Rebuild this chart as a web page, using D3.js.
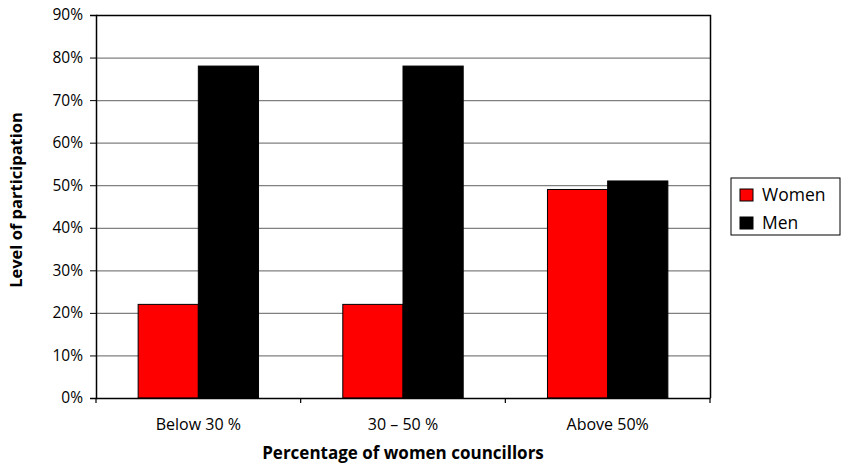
<!DOCTYPE html>
<html>
<head>
<meta charset="utf-8">
<script src="https://cdn.jsdelivr.net/npm/d3@7"></script>
<style>
  body { margin: 0; background: #fff; }
  svg text { font-family: "Open Sans", Lato, sans-serif; fill: #000; }
</style>
</head>
<body>
<div id="chart"></div>
<script>
//---------------------------------- Data --------------------
var categories = ["Below 30 %", "30 \u2013 50 %", "Above 50%"];
var seriesNames = ["Women", "Men"];
var women = [22, 22, 49];
var men = [78, 78, 51];
var yTicks = [0, 10, 20, 30, 40, 50, 60, 70, 80, 90];
var colors = ["#ff0000", "#000000"];

//---------------------------------- Layout --------------------
var width = 842, height = 466;
var plot = {left: 96, top: 15, right: 710, bottom: 398};

var svg = d3.select("#chart").append("svg")
    .attr("width", width)
    .attr("height", height);

var x_scale = d3.scaleBand()
    .domain(categories)
    .range([plot.left, plot.right]);

var x_inner = d3.scaleBand()
    .domain(seriesNames)
    .range([0, x_scale.bandwidth()])
    .paddingOuter(0.7)
    .paddingInner(0);

var y_scale = d3.scaleLinear()
    .domain([0, 90])
    .range([plot.bottom, plot.top]);

// gridlines
svg.append("g")
    .selectAll("line")
    .data(yTicks.filter(function(d){ return d > 0; }))
    .enter().append("line")
    .attr("x1", plot.left)
    .attr("x2", plot.right)
    .attr("y1", function(d){ return y_scale(d) + 0.5; })
    .attr("y2", function(d){ return y_scale(d) + 0.5; })
    .style("stroke", "#808080")
    .style("stroke-width", 1.2);

// bars
var rows = categories.map(function(c, i){ return {cat: c, vals: [women[i], men[i]]}; });

svg.append("g").selectAll("g")
    .data(rows)
    .enter().append("g")
    .attr("transform", function(d){ return "translate(" + x_scale(d.cat) + ",0)"; })
    .selectAll("rect")
    .data(function(d){ return d.vals.map(function(v, j){ return {name: seriesNames[j], value: v, j: j}; }); })
    .enter().append("rect")
    .attr("x", function(d){ return x_inner(d.name); })
    .attr("width", x_inner.bandwidth())
    .attr("y", function(d){ return y_scale(d.value); })
    .attr("height", function(d){ return y_scale(0) - y_scale(d.value); })
    .style("fill", function(d){ return colors[d.j]; })
    .style("stroke", "#000")
    .style("stroke-width", 1);

// right + top border
svg.append("path")
    .attr("d", "M" + plot.left + "," + (plot.top + 0.5) + "H" + (plot.right + 0.5) + "V" + plot.bottom)
    .style("fill", "none")
    .style("stroke", "#000")
    .style("stroke-width", 1.5);

// y axis
var yAxis = svg.append("g")
    .attr("transform", "translate(" + plot.left + ",0)")
    .call(d3.axisLeft(y_scale).tickValues(yTicks).tickSize(6).tickPadding(7)
        .tickFormat(function(d){ return d + "%"; }));
yAxis.select(".domain").style("stroke-width", 1.5);
yAxis.selectAll("text").style("font-size", "15.5px");

// x axis
var xAxis = svg.append("g")
    .attr("transform", "translate(0," + plot.bottom + ")")
    .call(d3.axisBottom(x_scale).tickSize(0).tickPadding(21));
xAxis.select(".domain").style("stroke-width", 1.5);
xAxis.selectAll("text").style("font-size", "16px");

// category separators on x axis
svg.append("g").selectAll("line")
    .data(categories.concat(["end"]))
    .enter().append("line")
    .attr("x1", function(d, i){ return plot.left + i * x_scale.step(); })
    .attr("x2", function(d, i){ return plot.left + i * x_scale.step(); })
    .attr("y1", plot.bottom)
    .attr("y2", plot.bottom + 5)
    .style("stroke", "#000")
    .style("stroke-width", 1.2);

// axis titles
svg.append("text")
    .attr("x", (plot.left + plot.right) / 2)
    .attr("y", 459)
    .attr("text-anchor", "middle")
    .style("font-size", "17px")
    .style("font-weight", "bold")
    .text("Percentage of women councillors");

svg.append("text")
    .attr("transform", "translate(22,200) rotate(-90)")
    .attr("text-anchor", "middle")
    .style("font-size", "16.5px")
    .style("font-weight", "bold")
    .text("Level of participation");

// legend
var legend = svg.append("g").attr("transform", "translate(731,178)");
legend.append("rect")
    .attr("width", 109)
    .attr("height", 57)
    .style("fill", "#fff")
    .style("stroke", "#000")
    .style("stroke-width", 1);

var items = legend.selectAll("g.item")
    .data(seriesNames)
    .enter().append("g")
    .attr("class", "item")
    .attr("transform", function(d, i){ return "translate(9," + (11 + i * 28) + ")"; });
items.append("rect")
    .attr("width", 13)
    .attr("height", 12)
    .style("fill", function(d, i){ return colors[i]; })
    .style("stroke", "#000");
items.append("text")
    .attr("x", 22)
    .attr("y", 12)
    .style("font-size", "17.5px")
    .text(function(d){ return d; });
</script>
</body>
</html>
